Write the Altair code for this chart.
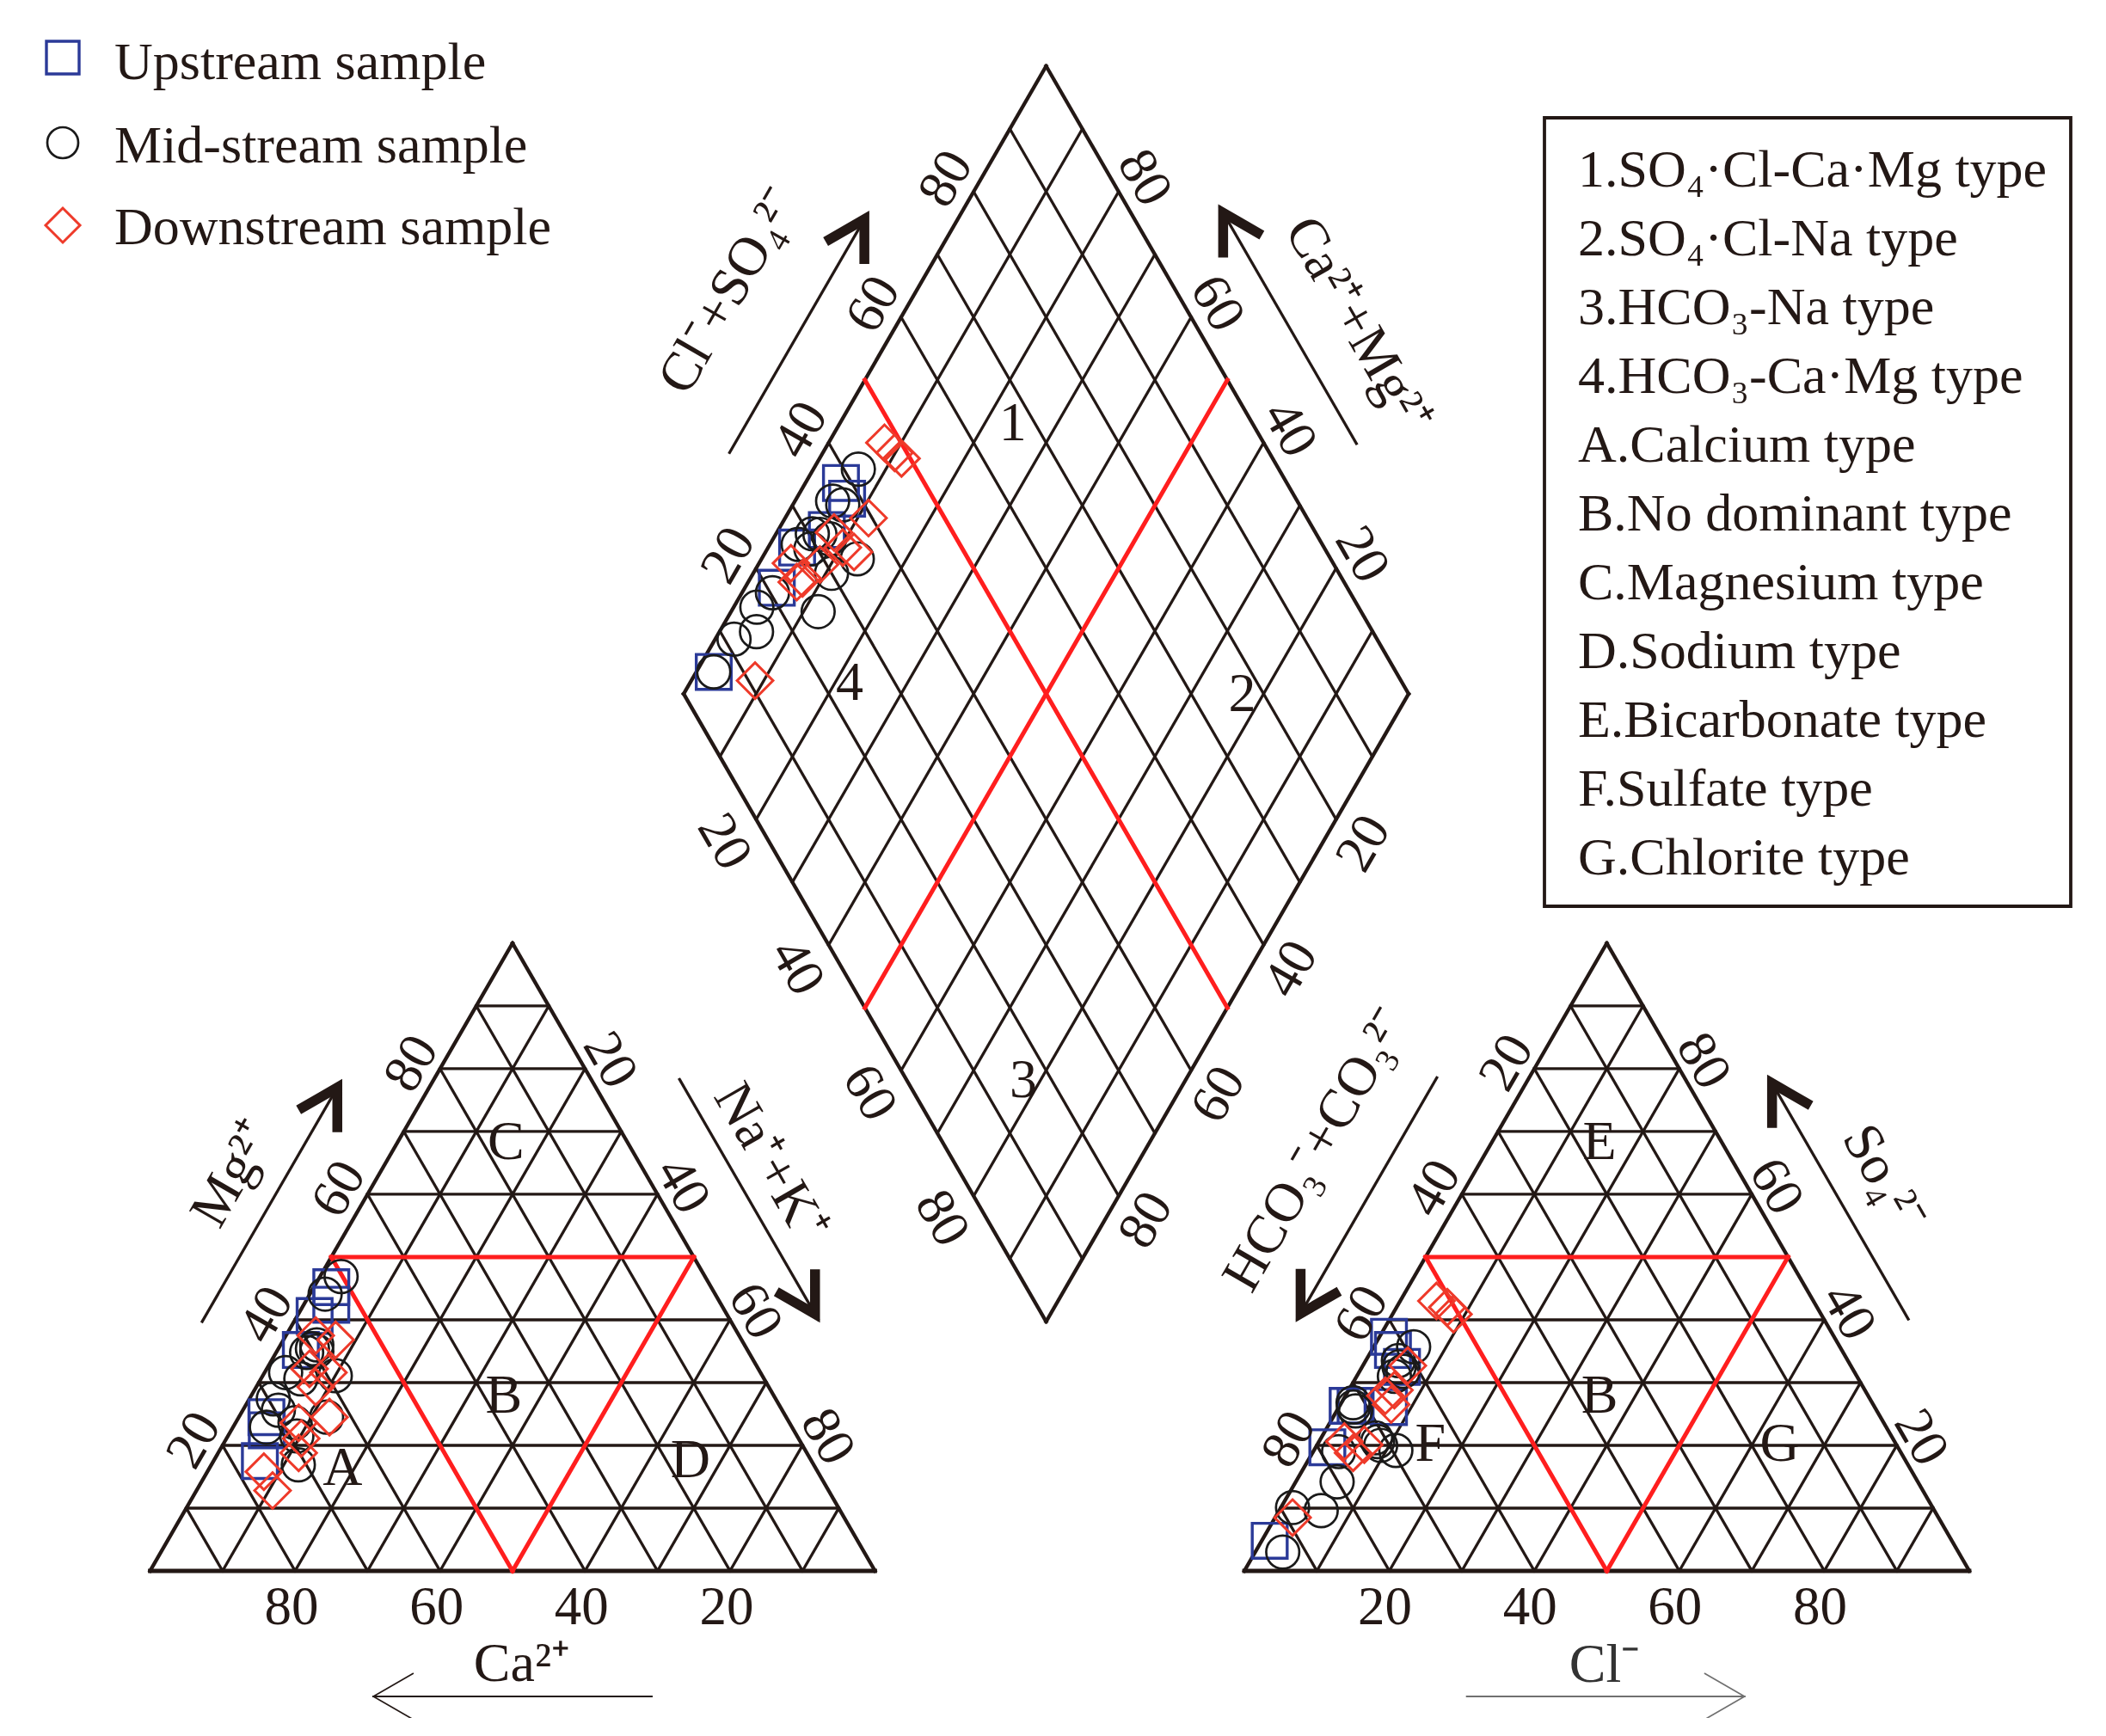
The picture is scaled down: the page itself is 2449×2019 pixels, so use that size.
import altair as alt
import numpy as np
import pandas as pd

# ---------------- values ----------------
# Cation triangle: Mg2+ % and Na+ + K+ % (Ca2+ = rest)
up_cat_mg = [45.2, 42.4, 40.6, 35.2, 24.5, 22.4, 17.5]
up_cat_na = [2.4, 3.8, 2.4, 3.2, 3.8, 4.9, 6.4]
mid_cat_mg = [46.9, 44.1, 35.4, 34.8, 36.0, 35.0, 31.6, 30.6, 31.1, 27.4, 25.6, 22.9, 23.6, 24.5, 16.9, 21.5]
mid_cat_na = [2.9, 2.1, 4.7, 4.2, 5.0, 5.5, 2.9, 5.5, 10.0, 3.3, 4.9, 4.6, 8.2, 12.1, 12.0, 9.5]
down_cat_mg = [37.5, 36.8, 32.2, 31.6, 29.3, 24.5, 23.6, 21.1, 18.8, 15.8, 12.8]
down_cat_na = [4.1, 7.2, 5.9, 8.8, 8.2, 12.5, 8.7, 10.3, 11.1, 7.8, 10.5]

# Anion triangle: SO4 2- % and Cl- % (HCO3- + CO3 2- = rest)
up_an_so4 = [37.3, 35.2, 32.5, 26.3, 26.3, 26.1, 19.7, 4.8]
up_an_cl = [1.3, 2.9, 5.5, 1.1, 2.2, 6.9, 1.6, 1.1]
mid_an_so4 = [35.7, 32.5, 33.5, 31.8, 31.0, 26.1, 25.5, 26.8, 20.6, 21.2, 20.0, 19.2, 19.0, 14.2, 9.6, 10.1, 3.0]
mid_an_cl = [5.5, 5.1, 4.5, 6.0, 5.2, 2.0, 2.6, 1.6, 8.1, 7.5, 8.8, 11.3, 3.5, 5.7, 5.8, 1.6, 3.8]
down_an_so4 = [32.7, 27.9, 26.5, 28.8, 20.6, 20.1, 18.8, 8.5, 43.0, 42.0, 40.9]
down_an_cl = [6.2, 5.5, 7.0, 6.3, 3.5, 6.5, 5.6, 2.4, 5.0, 7.0, 8.4]

# Diamond: Cl- + SO4 2- % and Ca2+ + Mg2+ %
up_dm_cs = [38.5, 38.1, 32.8, 27.3, 21.3, 5.9]
up_dm_cm = [95.1, 93.0, 93.3, 96.0, 95.6, 97.6]
mid_dm_cs = [42.0, 35.9, 37.0, 27.7, 29.1, 31.5, 32.5, 34.7, 30.0, 25.1, 20.3, 17.0, 15.0, 11.3, 5.9, 30.5]
mid_dm_cm = [93.8, 94.8, 93.1, 96.1, 94.0, 93.9, 92.2, 86.8, 89.2, 88.0, 95.8, 96.8, 94.9, 97.4, 97.6, 95.0]
down_dm_cs = [10.9, 39.5, 47.7, 48.3, 48.8, 24.5, 29.1, 33.6, 33.6, 34.8, 25.2, 25.6]
down_dm_cm = [91.2, 88.5, 92.3, 90.1, 88.7, 93.3, 91.5, 89.7, 92.1, 87.8, 95.6, 92.8]

tick_values = [20, 40, 60, 80]
legend_labels = ["Upstream sample", "Mid-stream sample", "Downstream sample"]
box_lines = ["1.SO₄·Cl-Ca·Mg type", "2.SO₄·Cl-Na type", "3.HCO₃-Na type",
             "4.HCO₃-Ca·Mg type", "A.Calcium type", "B.No dominant type",
             "C.Magnesium type", "D.Sodium type", "E.Bicarbonate type",
             "F.Sulfate type", "G.Chlorite type"]

# ---------------- geometry ----------------
K = 8.43                      # px per percent unit
OX, OY = 174.5, 1827.0        # page px of the cation triangle's Ca corner
W, H = 2420, 1990
S = np.sqrt(3) / 2
R0 = (1447.0 - OX) / K        # anion triangle offset
DX = (1216.5 - OX) / K        # diamond bottom corner
DY = (OY - 1537.0) / K

def P(px, py):
    return (px - OX) / K, (OY - py) / K

def tl(mg, na):
    return na + mg / 2.0, mg * S

def tr(so4, cl):
    return R0 + cl + so4 / 2.0, so4 * S

def dm(cs, cm):
    return DX + 0.5 * cs - 0.5 * cm, DY + S * (cs + cm)

def off(pt, dx, dy):
    return pt[0] + dx / K, pt[1] - dy / K

def edge(A, B, f, d, n):
    x = A[0] + f * (B[0] - A[0])
    y = A[1] + f * (B[1] - A[1])
    return off((x, y), d * n[0], d * n[1])

NL, NR, ND = (-S, -0.5), (S, -0.5), (0.0, 1.0)
BLK, RED_L = "#231815", "#FF1E1E"
BLUE, CIRC, RED = "#2B3A98", "#1A1A1A", "#EE3A2A"
FONT = "Liberation Serif"
GW, EW, RW = 3.3, 4.3, 5.0

# ---------------- line segments ----------------
segs = []
def seg(a, b, c, w):
    segs.append(dict(x=a[0], y=a[1], x2=b[0], y2=b[1], c=c, w=w))

for v in range(10, 100, 10):
    for f in (tl, tr):
        seg(f(v, 0), f(v, 100 - v), BLK, GW)
        seg(f(0, v), f(100 - v, v), BLK, GW)
        seg(f(0, 100 - v), f(100 - v, 0), BLK, GW)
    seg(dm(v, 0), dm(v, 100), BLK, GW)
    seg(dm(0, v), dm(100, v), BLK, GW)
for f in (tl, tr):
    seg(f(0, 0), f(0, 100), BLK, EW + 0.5)
    seg(f(0, 100), f(100, 0), BLK, EW)
    seg(f(100, 0), f(0, 0), BLK, EW)
seg(dm(0, 0), dm(100, 0), BLK, EW)
seg(dm(100, 0), dm(100, 100), BLK, EW)
seg(dm(100, 100), dm(0, 100), BLK, EW)
seg(dm(0, 100), dm(0, 0), BLK, EW)
for f in (tl, tr):
    seg(f(50, 0), f(50, 50), RED_L, RW)
    seg(f(0, 50), f(50, 0), RED_L, RW)
    seg(f(0, 50), f(50, 50), RED_L, RW)
seg(dm(50, 0), dm(50, 100), RED_L, RW)
seg(dm(0, 50), dm(100, 50), RED_L, RW)

LV, RV, AP = tl(0, 0), tl(0, 100), tl(100, 0)
rLV, rRV, rAP = tr(0, 0), tr(0, 100), tr(100, 0)
dL, dT, dR = dm(0, 100), dm(100, 100), dm(100, 0)

arrows = [
    (edge(LV, AP, 0.334, 92.5, NL), edge(LV, AP, 0.715, 92.5, NL), 300, "thick"),
    (edge(AP, RV, 0.278, 89, NR), edge(AP, RV, 0.66, 89, NR), 60, "thick"),
    (edge(rLV, rAP, 0.722, 93, NL), edge(rLV, rAP, 0.338, 93, NL), 120, "thick"),
    (edge(rAP, rRV, 0.657, 85, NR), edge(rAP, rRV, 0.273, 85, NR), 240, "thick"),
    (edge(dL, dT, 0.32, 94, NL), edge(dL, dT, 0.70, 94, NL), 300, "thick"),
    (edge(dT, dR, 0.665, 93, NR), edge(dT, dR, 0.289, 93, NR), 240, "thick"),
    (edge(LV, RV, 0.692, 146, ND), edge(LV, RV, 0.308, 146, ND), 180, "thin"),
    (edge(rLV, rRV, 0.307, 146, ND), edge(rLV, rRV, 0.69, 146, ND), 0, "gray"),
]
heads = []
for a, b, ang, kind in arrows:
    if kind == "thick":
        seg(a, b, BLK, 3.3)
        r = np.radians(ang)
        hp = off(b, -7 * np.cos(r), -7 * np.sin(r))
        heads.append(dict(x=hp[0], y=hp[1], a=ang, s=(2 * 52) ** 2, w=11.5, c=BLK))
    else:
        col = BLK if kind == "thin" else "#707070"
        seg(a, b, col, 2.2)
        heads.append(dict(x=b[0], y=b[1], a=ang, s=(2 * 54) ** 2, w=1.7, c=col))

seg_df = pd.DataFrame(segs)
head_df = pd.DataFrame(heads)

# ---------------- points ----------------
rows = []
def add_pts(fn, a, b, shape, color, size, sw):
    for u, v in zip(a, b):
        x, y = fn(u, v)
        rows.append(dict(x=x, y=y, shape=shape, c=color, s=size, w=sw))

add_pts(tl, up_cat_mg, up_cat_na, "square", BLUE, 1650, 3.4)
add_pts(tr, up_an_so4, up_an_cl, "square", BLUE, 1650, 3.4)
add_pts(dm, up_dm_cs, up_dm_cm, "square", BLUE, 1650, 3.4)
add_pts(tl, mid_cat_mg, mid_cat_na, "circle", CIRC, 1480, 2.7)
add_pts(tr, mid_an_so4, mid_an_cl, "circle", CIRC, 1480, 2.7)
add_pts(dm, mid_dm_cs, mid_dm_cm, "circle", CIRC, 1480, 2.7)
add_pts(tl, down_cat_mg, down_cat_na, "diamond", RED, 1750, 3.0)
add_pts(tr, down_an_so4, down_an_cl, "diamond", RED, 1750, 3.0)
add_pts(dm, down_dm_cs, down_dm_cm, "diamond", RED, 1750, 3.0)

leg_sym = [("square", BLUE, 1444, 3.4), ("circle", CIRC, 1296, 2.7), ("diamond", RED, 1600, 3.0)]
leg_sym_y = [67, 166, 262]
leg_txt_y = [73, 170, 265]
for (shape, col, sz, sw), yy in zip(leg_sym, leg_sym_y):
    x, y = P(73, yy)
    rows.append(dict(x=x, y=y, shape=shape, c=col, s=sz, w=sw))
pt_df = pd.DataFrame(rows)

# ---------------- texts ----------------
ctext = []
def ct(pt, txt, ang=0, fs=63, col=BLK):
    ctext.append(dict(x=pt[0], y=pt[1], t=txt, a=ang, fs=fs, c=col))

for v in tick_values:
    s_ = str(v)
    ct(off(tl(0, 100 - v), -4, 43), s_)
    ct(off(tl(v, 0), -33, -6), s_, 300)
    ct(off(tl(100 - v, v), 29, -10), s_, 60)
    ct(off(tr(0, v), -5, 43), s_)
    ct(off(tr(100 - v, 0), -32, -7), s_, 300)
    ct(off(tr(v, 100 - v), 28, -9), s_, 60)
    ct(off(dm(v, 100), -32, -15), s_, 300)
    ct(off(dm(100, v), 30, -16), s_, 60)
    ct(off(dm(0, 100 - v), -37, 26), s_, 60)
    ct(off(dm(100 - v, 0), 32, 28), s_, 300)

regions = [("A", tl(16.3, 18.4)), ("B", tl(27.8, 34.9)), ("C", tl(68.2, 15.0)), ("D", tl(17.5, 65.8)),
           ("E", tr(68.2, 14.9)), ("B", tr(27.8, 35.1)), ("F", tr(20.1, 15.6)), ("G", tr(20.1, 63.8)),
           ("1", dm(66.9, 76.1)), ("2", dm(77.0, 22.9)), ("3", dm(16.0, 22.3)), ("4", dm(23.7, 77.9))]
for t, p in regions:
    ct(p, t, 0, 64)

titles = [
    ("Mg²⁺", edge(LV, AP, 0.532, 147, NL), 300, BLK),
    ("Na⁺+K⁺", edge(AP, RV, 0.44, 132, NR), 60, BLK),
    ("Ca²⁺", edge(LV, RV, 0.513, 109, ND), 0, BLK),
    ("HCO₃⁻+CO₃²⁻", edge(rLV, rAP, 0.553, 172, NL), 300, BLK),
    ("So₄²⁻", edge(rAP, rRV, 0.472, 142, NR), 60, BLK),
    ("Cl⁻", edge(rLV, rRV, 0.497, 110, ND), 0, "#333333"),
    ("Cl⁻+SO₄²⁻", edge(dL, dT, 0.513, 188, NL), 300, BLK),
    ("Ca²⁺+Mg²⁺", edge(dT, dR, 0.525, 163, NR), 60, BLK),
]
for t, p, a, col in titles:
    ct(p, t, a, 64, col)
ct_df = pd.DataFrame(ctext)

ltext = []
for lab, yy in zip(legend_labels, leg_txt_y):
    x, y = P(133, yy)
    ltext.append(dict(x=x, y=y, t=lab))
for i, lab in enumerate(box_lines):
    x, y = P(1835, 198 + 80 * i)
    ltext.append(dict(x=x, y=y, t=lab))
lt_df = pd.DataFrame(ltext)

bx1, by1 = P(1796, 137)
bx2, by2 = P(2408, 1054)
box_df = pd.DataFrame([dict(x=bx1, y=by1, x2=bx2, y2=by2)])

# ---------------- scales ----------------
x0, y0 = P(8, 8 + H)
x1, y1 = P(8 + W, 8)
XS = alt.Scale(domain=[x0, x1], nice=False, zero=False)
YS = alt.Scale(domain=[y0, y1], nice=False, zero=False)

def X():
    return alt.X("x:Q", scale=XS, axis=None)

def Y():
    return alt.Y("y:Q", scale=YS, axis=None)

rules = alt.Chart(seg_df).mark_rule(strokeCap="square").encode(
    x=X(), y=Y(), x2=alt.X2("x2"), y2=alt.Y2("y2"),
    color=alt.Color("c:N", scale=None),
    strokeWidth=alt.StrokeWidth("w:Q", scale=None))

box = alt.Chart(box_df).mark_rect(fillOpacity=0, stroke=BLK, strokeWidth=3.8).encode(
    x=X(), y=Y(), x2=alt.X2("x2"), y2=alt.Y2("y2"))

points = alt.Chart(pt_df).mark_point(filled=False, opacity=1).encode(
    x=X(), y=Y(),
    shape=alt.Shape("shape:N", scale=None),
    color=alt.Color("c:N", scale=None),
    size=alt.Size("s:Q", scale=None),
    strokeWidth=alt.StrokeWidth("w:Q", scale=None))

arrowheads = alt.Chart(head_df).mark_point(
    shape="M -0.866 -0.5 L 0 0 L -0.866 0.5", filled=False, opacity=1,
    strokeJoin="miter", strokeCap="butt").encode(
    x=X(), y=Y(),
    angle=alt.Angle("a:Q", scale=None),
    size=alt.Size("s:Q", scale=None),
    color=alt.Color("c:N", scale=None),
    strokeWidth=alt.StrokeWidth("w:Q", scale=None))

ctexts = alt.Chart(ct_df).mark_text(font=FONT, align="center", baseline="middle").encode(
    x=X(), y=Y(), text="t:N",
    angle=alt.Angle("a:Q", scale=None),
    size=alt.Size("fs:Q", scale=None),
    color=alt.Color("c:N", scale=None))

ltexts = alt.Chart(lt_df).mark_text(font=FONT, align="left", baseline="middle",
                                    fontSize=62, color=BLK).encode(
    x=X(), y=Y(), text="t:N")

chart = alt.layer(rules, box, points, arrowheads, ctexts, ltexts).properties(
    width=W, height=H, padding=0,
    autosize=alt.AutoSizeParams(type="none"),
    background="white",
).configure_view(stroke=None)

chart.save("out.html", embed_options={"renderer": "svg", "actions": False})
